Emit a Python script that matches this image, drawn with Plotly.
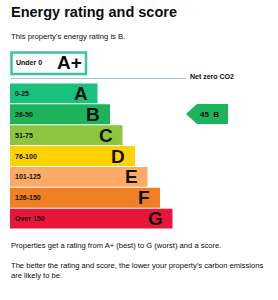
import plotly.graph_objects as go

# ---- data ----
bands = ["A", "B", "C", "D", "E", "F", "G"]
score_ranges = ["0-25", "26-50", "51-75", "76-100", "101-125", "126-150", "Over 150"]
bar_lengths = [7, 8, 9, 10, 11, 12, 13]
band_colors = ["#19c17c", "#1db35b", "#8cc63f", "#ffd200", "#fcaa65", "#ef8023", "#e9153b"]
top_band = "A+"
top_range = "Under 0"
current_score = 45
current_band = "B"
title = "Energy rating and score"
subtitle = "This property\u2019s energy rating is B."
note1 = "Properties get a rating from A+ (best) to G (worst) and a score."
note2 = "The better the rating and score, the lower your property\u2019s carbon emissions<br>are likely to be."
netzero_label = "Net zero CO2"

W, H = 278, 300
FONT = "Liberation Sans, Arial, sans-serif"


def px(x):
    return x / W


def py(y):
    return 1 - y / H


BAR_TOP, ROW = 83, 21
n = len(bands)

fig = go.Figure()
fig.add_trace(go.Bar(
    y=bands, x=bar_lengths, orientation="h",
    marker=dict(color=band_colors, line=dict(width=0)),
    hoverinfo="skip", showlegend=False,
))

ann = []
for b, r, L in zip(bands, score_ranges, bar_lengths):
    ann.append(dict(x=0, y=b, xref="x", yref="y", text=f"<b>{r}</b>", showarrow=False,
                    xanchor="left", yanchor="middle", xshift=3,
                    font=dict(family=FONT, size=7, color="#111")))
    ann.append(dict(x=L, y=b, xref="x", yref="y", text=f"<b>{b}</b>", showarrow=False,
                    xanchor="right", yanchor="middle", xshift=-8,
                    font=dict(family=FONT, size=19, color="#111")))


def txt(x, y, text, size, anchor="left", bold=False):
    t = f"<b>{text}</b>" if bold else text
    ann.append(dict(x=px(x), y=py(y), xref="paper", yref="paper", text=t, showarrow=False,
                    xanchor=anchor, yanchor="middle", align="left",
                    font=dict(family=FONT, size=size, color="#0b0c0c")))


txt(9, 12, title, 14.5, bold=True)
txt(9, 36.5, subtitle, 7.7)
txt(9, 246, note1, 7.6)
txt(9, 270.5, note2, 7.6)

# A+ box
shapes = [dict(type="rect", xref="paper", yref="paper", x0=px(11.5), x1=px(86), y0=py(52.5), y1=py(74),
               line=dict(color="#3ec19e", width=2.5), fillcolor="white", layer="below")]
txt(13.5, 63, top_range, 7, bold=True)
txt(69.5, 63, top_band, 19, anchor="center", bold=True)

# net zero line
shapes.append(dict(type="line", xref="paper", yref="paper", x0=px(11), x1=px(186), y0=py(78.5), y1=py(78.5),
                   line=dict(color="#a9c4d1", width=1.2)))
txt(188, 77, netzero_label, 7, bold=True)

# current score arrow
idx = bands.index(current_band)
y0 = BAR_TOP + ROW * idx
y1 = y0 + ROW - 1
yc = (y0 + y1) / 2
path = (f"M {px(186)} {py(yc)} L {px(197)} {py(y0)} L {px(228)} {py(y0)} "
        f"L {px(228)} {py(y1)} L {px(197)} {py(y1)} Z")
shapes.append(dict(type="path", xref="paper", yref="paper", path=path,
                   fillcolor=band_colors[idx], line=dict(width=0)))
txt(209, yc, f"{current_score}  {current_band}", 8, anchor="center", bold=True)

fig.update_layout(
    width=W, height=H, margin=dict(l=0, r=0, t=0, b=0),
    paper_bgcolor="white", plot_bgcolor="white",
    bargap=1 / ROW,
    xaxis=dict(range=[-10 / 12.5, (W - 10) / 12.5], domain=[0, 1], visible=False, fixedrange=True),
    yaxis=dict(type="category", categoryorder="array", categoryarray=bands,
               range=[n - 0.5, -0.5], domain=[py(BAR_TOP + ROW * n - 1), py(BAR_TOP)],
               visible=False, fixedrange=True),
    annotations=ann, shapes=shapes,
)

fig.write_html("out.html", config={"displayModeBar": False})
